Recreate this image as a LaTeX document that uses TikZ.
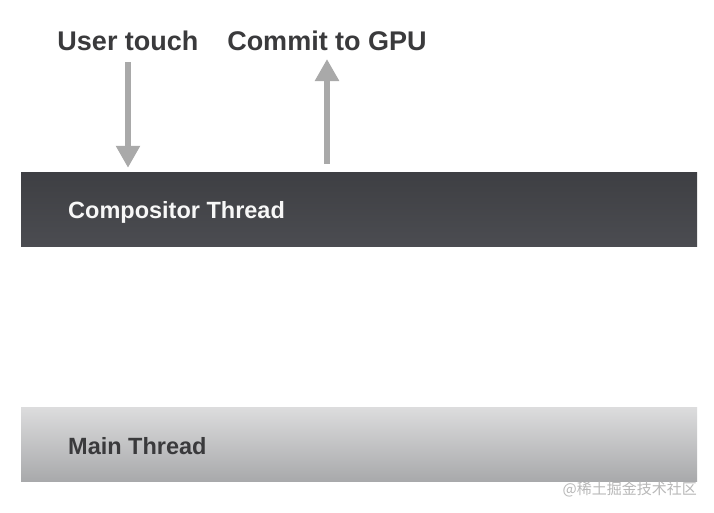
\documentclass[tikz,border=0pt]{standalone}
\usepackage{fontspec}
\setmainfont{Liberation Sans}
\newfontfamily\cjk{Noto Sans CJK SC}
\usetikzlibrary{arrows.meta}
\definecolor{labelgray}{HTML}{3A3A3C}
\definecolor{arrowgray}{HTML}{A9A9A9}
\definecolor{darktop}{HTML}{3E3F43}
\definecolor{darkbottom}{HTML}{4B4C51}
\definecolor{lighttop}{HTML}{DCDCDD}
\definecolor{lightbottom}{HTML}{A8A9AB}
\begin{document}
\begin{tikzpicture}[x=1pt,y=-1pt,
  bar/.style={minimum width=676pt,minimum height=74pt,inner sep=0pt,draw=none},
  toplabel/.style={font=\fontsize{27}{32}\selectfont\bfseries,text=labelgray,anchor=base,inner sep=0pt},
  barlabel/.style={font=\fontsize{23.5}{28}\selectfont\bfseries,anchor=base west,inner sep=0pt},
  flow/.style={arrowgray,line width=5.5pt,-{Triangle[length=22pt,width=23pt]}}]
\useasboundingbox[fill=white] (0,0) rectangle (714,512);
% thread bars
\node[bar,top color=darktop,bottom color=darkbottom] (compositor) at (359,209) {};
\node[bar,top color=lighttop,bottom color=lightbottom] (main) at (359,444.5) {};
\node[barlabel,text=black!3] (compositorlabel) at (68,218) {Compositor Thread};
\node[barlabel,text=labelgray] (mainlabel) at (68,454) {Main Thread};
% input and output
\node[toplabel] (touch) at (128,50) {User touch};
\node[toplabel] (commit) at (327,50) {Commit to GPU};
\draw[flow] ([yshift=-12pt]touch.base) -- ([yshift=4pt]touch.base |- compositor.north);
\draw[flow] ([yshift=8pt]commit.base |- compositor.north) -- ([yshift=-9pt]commit.base);
\node[font=\cjk\fontsize{15}{18}\selectfont,text=black!28,anchor=base east,inner sep=0pt] (mark) at (697,494) {@稀土掘金技术社区};
\end{tikzpicture}
\end{document}
